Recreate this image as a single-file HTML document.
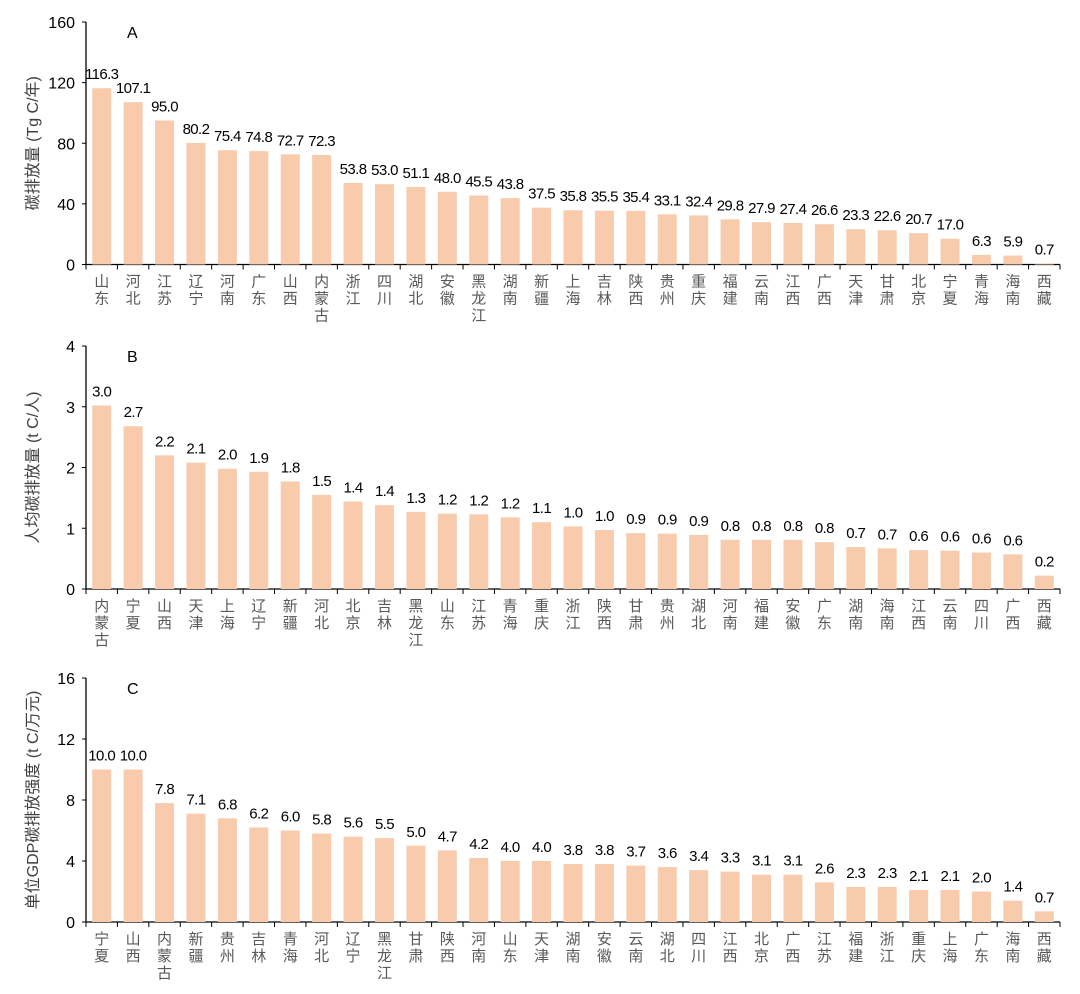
<!DOCTYPE html>
<html><head><meta charset="utf-8"><style>
html,body{margin:0;padding:0;background:#fff}
svg{display:block;font-family:"Liberation Sans","Noto Sans CJK SC",sans-serif}
</style></head><body>
<svg id="s" width="1080" height="994" xmlns="http://www.w3.org/2000/svg"></svg>
<script>
const panels=[
{L:'A',y0:264.5,top:22,max:160,step:40,title:'碳排放量 (Tg C/年)',
names:'山东 河北 江苏 辽宁 河南 广东 山西 内蒙古 浙江 四川 湖北 安徽 黑龙江 湖南 新疆 上海 吉林 陕西 贵州 重庆 福建 云南 江西 广西 天津 甘肃 北京 宁夏 青海 海南 西藏',
v:[116.3,107.1,95.0,80.2,75.4,74.8,72.7,72.3,53.8,53.0,51.1,48.0,45.5,43.8,37.5,35.8,35.5,35.4,33.1,32.4,29.8,27.9,27.4,26.6,23.3,22.6,20.7,17.0,6.3,5.9,0.7]},
{L:'B',y0:589,top:346,max:4,step:1,title:'人均碳排放量 (t C/人)',
names:'内蒙古 宁夏 山西 天津 上海 辽宁 新疆 河北 北京 吉林 黑龙江 山东 江苏 青海 重庆 浙江 陕西 甘肃 贵州 湖北 河南 福建 安徽 广东 湖南 海南 江西 云南 四川 广西 西藏',
v:[3.0,2.7,2.2,2.1,2.0,1.9,1.8,1.5,1.4,1.4,1.3,1.2,1.2,1.2,1.1,1.0,1.0,0.9,0.9,0.9,0.8,0.8,0.8,0.8,0.7,0.7,0.6,0.6,0.6,0.6,0.2],
h:[3.02,2.68,2.2,2.08,1.98,1.93,1.77,1.55,1.44,1.38,1.27,1.24,1.23,1.18,1.1,1.03,0.97,0.92,0.91,0.89,0.81,0.81,0.81,0.77,0.69,0.67,0.64,0.63,0.6,0.57,0.22]},
{L:'C',y0:922,top:678,max:16,step:4,title:'单位GDP碳排放强度 (t C/万元)',
names:'宁夏 山西 内蒙古 新疆 贵州 吉林 青海 河北 辽宁 黑龙江 甘肃 陕西 河南 山东 天津 湖南 安徽 云南 湖北 四川 江西 北京 广西 江苏 福建 浙江 重庆 上海 广东 海南 西藏',
v:[10.0,10.0,7.8,7.1,6.8,6.2,6.0,5.8,5.6,5.5,5.0,4.7,4.2,4.0,4.0,3.8,3.8,3.7,3.6,3.4,3.3,3.1,3.1,2.6,2.3,2.3,2.1,2.1,2.0,1.4,0.7]}
];
let o='';const x0=86,x1=1060,w=(x1-x0)/31;
for(const p of panels){
 const sc=(p.y0-p.top)/p.max;
 o+=`<line x1="${x0}" y1="${p.top}" x2="${x0}" y2="${p.y0}" stroke="#000" stroke-width="1.3"/>`;
 o+=`<line x1="${x0}" y1="${p.y0}" x2="${x1}" y2="${p.y0}" stroke="#000" stroke-width="1.3"/>`;
 for(let t=0;t<=p.max;t+=p.step){const y=p.y0-t*sc;
  o+=`<line x1="${x0-4}" y1="${y}" x2="${x0}" y2="${y}" stroke="#000"/>`;
  o+=`<text x="${x0-11}" y="${y+6}" font-size="16" text-anchor="end">${t}</text>`;}
 for(let i=0;i<=31;i++){const x=x0+i*w;o+=`<line x1="${x}" y1="${p.y0}" x2="${x}" y2="${p.y0+5}" stroke="#000"/>`;}
 o+=`<text x="127" y="${p.top+16}" font-size="16">${p.L}</text>`;
 const cy=(p.top+p.y0)/2;
 o+=`<text transform="translate(38,${cy}) rotate(-90)" font-size="16" fill="#404040" text-anchor="middle">${p.title}</text>`;
 const nm=p.names.split(' ');
 p.v.forEach((v,i)=>{const hv=p.h?p.h[i]:v;const cx=x0+(i+0.5)*w;const bh=hv*sc;
  o+=`<rect x="${cx-9.5}" y="${p.y0-bh}" width="19" height="${bh}" fill="#F8CBAD"/>`;
  o+=`<text x="${cx}" y="${p.y0-bh-9}" font-size="15" text-anchor="middle" letter-spacing="-0.6">${v.toFixed(1)}</text>`;
  [...nm[i]].forEach((c,j)=>{o+=`<text x="${cx}" y="${p.y0+22+j*17}" font-size="15" fill="#595959" text-anchor="middle">${c}</text>`;});
 });
}
document.getElementById('s').innerHTML=o;
</script>
</body></html>
